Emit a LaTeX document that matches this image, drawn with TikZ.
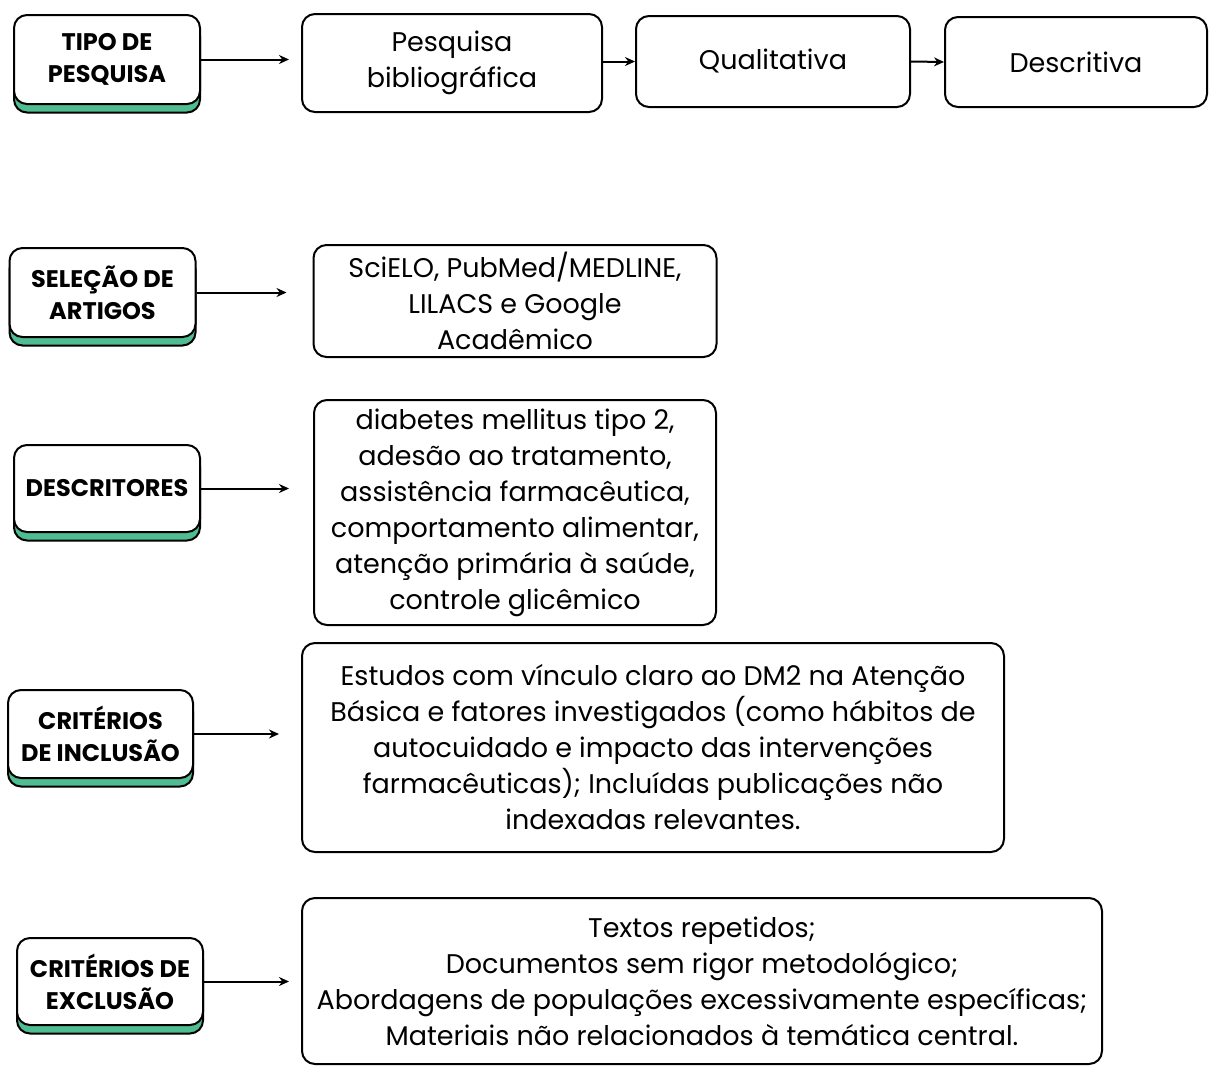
\documentclass[tikz,border=0pt]{standalone}
\usepackage{fontspec}
\setmainfont{Poppins}
\usetikzlibrary{arrows.meta,shadows}

\definecolor{mint}{HTML}{4FBC91}

\tikzset{
    etapa/.style={draw=black, line width=2pt, rounded corners=13pt, fill=white,
        minimum width=186pt, minimum height=89pt, align=center, inner sep=0pt,
        font=\fontsize{24}{32}\selectfont\bfseries,
        general shadow={fill=mint, draw=black, line width=2pt, shadow yshift=-8.5pt}},
    caixa/.style={draw=black, line width=2pt, rounded corners=13pt, fill=white,
        align=center, inner sep=0pt, font=\fontsize{27}{36}\selectfont},
    seta/.style={-{Stealth[length=10pt,width=9pt]}, line width=2pt, shorten >=#1},
    seta/.default=0pt
}

\begin{document}
\begin{tikzpicture}[x=1pt,y=-1pt]
            \useasboundingbox (0,0) rectangle (1210,1066);
            % linha de cima
            \node[etapa] (tipo) at (107,59.5) {TIPO DE\\PESQUISA};
            \node[caixa, minimum width=300pt, minimum height=98pt] (biblio) at (452,63) {Pesquisa\\bibliográfica};
            \node[caixa, minimum width=274pt, minimum height=91pt] (quali) at (773,61.5) {Qualitativa};
            \node[caixa, minimum width=262pt, minimum height=90pt] (descr) at (1076,62) {Descritiva};
            \draw[seta=12pt] (tipo.east) -- (tipo.east -| biblio.west);
            \draw[seta] (biblio.east |- quali.west) -- (quali.west);
            \draw[seta] (quali.east) -- (descr.west);
            % bases de dados
            \node[etapa] (selecao) at (102.5,292.5) {SELEÇÃO DE\\ARTIGOS};
            \node[caixa, minimum width=403pt, minimum height=112pt] (bases) at (515,301) {SciELO, PubMed/MEDLINE,\\LILACS e Google\\Acadêmico};
            \draw[seta=26pt] (selecao.east) -- (selecao.east -| bases.west);
            % descritores
            \node[etapa, minimum height=87pt] (descritores) at (107,488.5) {DESCRITORES};
            \node[caixa, minimum width=402pt, minimum height=225pt] (termos) at (515,512.5) {diabetes mellitus tipo 2,\\adesão ao tratamento,\\assistência farmacêutica,\\comportamento alimentar,\\atenção primária à saúde,\\controle glicêmico};
            \draw[seta=24pt] (descritores.east) -- (descritores.east -| termos.west);
            % criterios
            \node[etapa, minimum width=185pt, minimum height=88pt] (inclusao) at (100.5,734) {CRITÉRIOS\\DE INCLUSÃO};
            \node[caixa, minimum width=702pt, minimum height=209pt] (incl) at (653,747.5) {Estudos com vínculo claro ao DM2 na Atenção\\Básica e fatores investigados (como hábitos de\\autocuidado e impacto das intervenções\\farmacêuticas); Incluídas publicações não\\indexadas relevantes.};
            \draw[seta=22pt] (inclusao.east) -- (inclusao.east -| incl.west);
            \node[etapa, minimum height=87pt] (exclusao) at (110,981.5) {CRITÉRIOS DE\\EXCLUSÃO};
            \node[caixa, minimum width=800pt, minimum height=166pt] (excl) at (702,981) {Textos repetidos;\\Documentos sem rigor metodológico;\\Abordagens de populações excessivamente específicas;\\Materiais não relacionados à temática central.};
            \draw[seta=12pt] (exclusao.east) -- (exclusao.east -| excl.west);
\end{tikzpicture}
\end{document}
